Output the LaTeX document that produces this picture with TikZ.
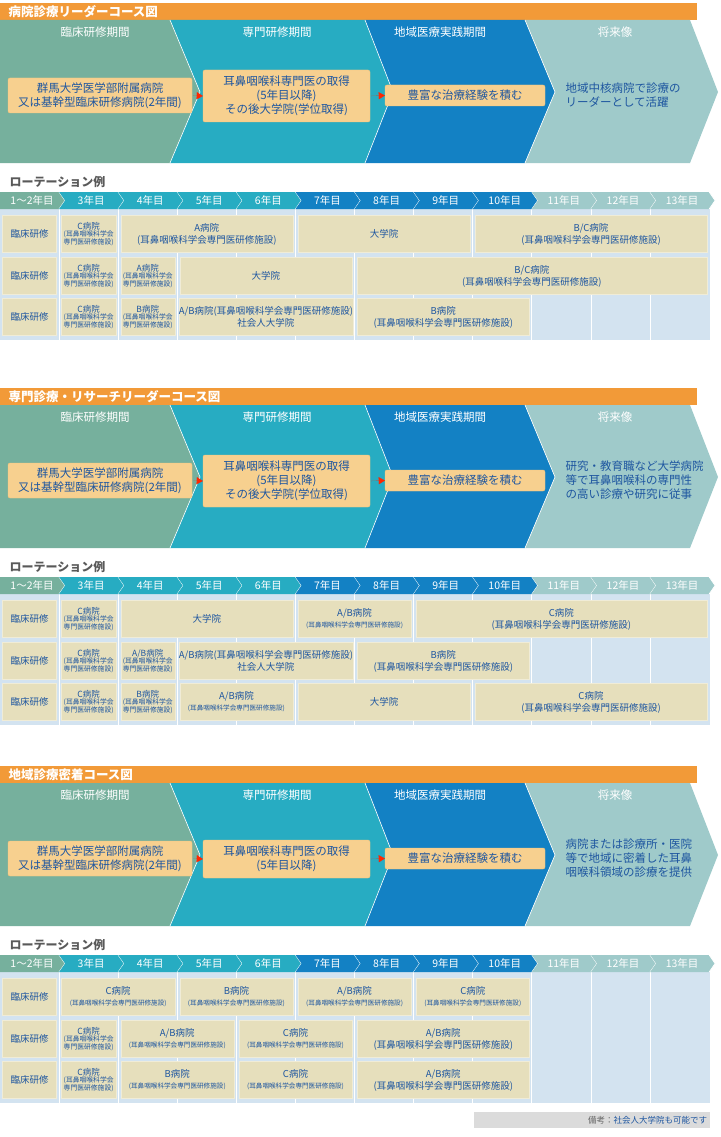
\documentclass[tikz,border=0pt]{standalone}
\usepackage{fontspec}
\setmainfont{Noto Sans CJK JP}
\usetikzlibrary{arrows.meta,positioning}

\definecolor{hdorange}{HTML}{F29A38}
\definecolor{phgreen}{HTML}{76B09D}
\definecolor{phteal}{HTML}{27ACC2}
\definecolor{phblue}{HTML}{1381C4}
\definecolor{phlight}{HTML}{9FCACA}
\definecolor{yelfill}{HTML}{F7D08F}
\definecolor{txtblue}{HTML}{1E56A0}
\definecolor{beige}{HTML}{E6DFBC}
\definecolor{gridblue}{HTML}{D3E3F0}

\tikzset{
titletext/.style={text=white, font=\fontsize{12.5}{14}\selectfont\bfseries},
phaselabel/.style={text=white, font=\fontsize{11.5}{13}\selectfont},
yelbox/.style={fill=yelfill, draw=yelfill!85!orange, rounded corners=2pt, align=center, text=txtblue, font=\fontsize{11.5}{14}\selectfont, inner sep=2pt},
futuretext/.style={text=txtblue, align=left, font=\fontsize{11.5}{14}\selectfont},
redtip/.style={draw=red!70!orange, line width=0.1pt, -{Triangle[length=6pt,width=7pt]}, shorten <=1pt},
rotlabel/.style={text=black!65, font=\fontsize{12}{14}\selectfont\bfseries},
yearlabel/.style={text=white, font=\fontsize{10.5}{11}\selectfont},
cellbox/.style={fill=beige, draw=beige!60!white, align=center, text=txtblue, inner sep=0pt, minimum height=37pt},
cellsmall/.style={font=\fontsize{6.8}{7.8}\selectfont},
celltwo/.style={font=\fontsize{6.6}{11}\selectfont},
cellmid/.style={font=\fontsize{9.5}{12}\selectfont},
notebox/.style={fill=black!14, text=txtblue, font=\fontsize{8.5}{10}\selectfont, minimum width=236pt, minimum height=16pt, inner sep=3pt},
}

% #1 name, #2 first column, #3 last column, #4 row centre, #5 style, #6 text
\newcommand\rc[6]{%
  \node[cellbox,#5,minimum width={((#3-#2+1)*59.1-5)*1pt}] (#1) at ({(#2+#3+1)*59.1/2},#4) {#6};}

% #1 prefix, #2 y offset, #3 title, #4 second box, #5 future, #6 second box height
\newcommand\coursehead[6]{%
\begin{scope}[shift={(0,#2)}]
\fill[hdorange] (0,3) rectangle (697,20);
\node[titletext, anchor=west] (#1title) at (5,11.5) {#3};
% phases
\fill[phgreen] (0,20) -- (170,20) -- (200,92) -- (170,163) -- (0,163) -- cycle;
\fill[phteal] (170,20) -- (365,20) -- (393,92) -- (365,163) -- (170,163) -- (200,92) -- cycle;
\fill[phblue] (365,20) -- (525,20) -- (555,92) -- (525,163) -- (365,163) -- (393,92) -- cycle;
\fill[phlight] (525,20) -- (690,20) -- (718,92) -- (690,163) -- (525,163) -- (555,92) -- cycle;
\draw[white, line width=0.6pt] (170,20) -- (200,92) -- (170,163)
  (365,20) -- (393,92) -- (365,163) (525,20) -- (555,92) -- (525,163);
\node[phaselabel] (#1p1) at (95,32) {臨床研修期間};
\node[phaselabel] (#1p2) at (277,32) {専門研修期間};
\node[phaselabel] (#1p3) at (440,32) {地域医療実践期間};
\node[phaselabel] (#1p4) at (615,32) {将来像};
\node[yelbox, minimum width=184pt, minimum height=35pt] (#1b1) at (100,95.5) {群馬大学医学部附属病院\\又は基幹型臨床研修病院(2年間)};
\node[yelbox, minimum width=167pt, minimum height=#6] (#1b2) at (286.5,96) {#4};
\node[yelbox, minimum width=160pt, minimum height=21pt] (#1b3) at (465,95.5) {豊富な治療経験を積む};
\node[futuretext, anchor=west] (#1fut) at (562,95) {#5};
\draw[redtip] (#1b1.east) -- (#1b2.west);
\draw[redtip] (#1b2.east) -- (#1b3.west);
% rotation
\node[rotlabel, anchor=west] (#1rot) at (6,182) {ローテーション例};
\fill[gridblue] (0,209) rectangle (710,340);
\foreach \i in {1,...,11} \draw[white, line width=1pt] ({\i*59.1},209) -- ({\i*59.1},340);
\foreach \i/\lab/\col in {0/1〜2年目/phgreen,1/3年目/phteal,2/4年目/phteal,3/5年目/phteal,
  4/6年目/phteal,5/7年目/phblue,6/8年目/phblue,7/9年目/phblue,8/10年目/phblue,
  9/11年目/phlight,10/12年目/phlight,11/13年目/phlight}{
  \fill[\col] ({\i*59.1},192) -- ({\i*59.1+59.1},192) -- ({\i*59.1+65},200.5)
    -- ({\i*59.1+59.1},209) -- ({\i*59.1},209) -- ({\i*59.1+6},200.5) -- cycle;
  \draw[white, line width=0.8pt] ({\i*59.1+59.1},192) -- ({\i*59.1+65},200.5) -- ({\i*59.1+59.1},209);
  \node[yearlabel] (#1y\i) at ({\i*59.1+32},200.5) {\lab};
}
\fill[phgreen] (0,192) rectangle (6.5,209);
\end{scope}}

\newcommand\smallc[1]{{\fontsize{8.5}{9}\selectfont #1病院}\\(耳鼻咽喉科学会\\専門医研修施設)}
\newcommand\longc[1]{#1病院\\(耳鼻咽喉科学会専門医研修施設)}
\newcommand\twoc[1]{{\fontsize{9.5}{11}\selectfont #1病院}\\(耳鼻咽喉科学会専門医研修施設)}

\begin{document}
\begin{tikzpicture}[x=1pt,y=-1pt]
\useasboundingbox (0,0) rectangle (720,1137);

\coursehead{a}{0}{病院診療リーダーコース図}{耳鼻咽喉科専門医の取得\\(5年目以降)\\その後大学院(学位取得)}{地域中核病院で診療の\\リーダーとして活躍}{52pt}
\coursehead{b}{385}{専門診療・リサーチリーダーコース図}{耳鼻咽喉科専門医の取得\\(5年目以降)\\その後大学院(学位取得)}{研究・教育職など大学病院\\等で耳鼻咽喉科の専門性\\の高い診療や研究に従事}{52pt}
\coursehead{c}{763}{地域診療密着コース図}{耳鼻咽喉科専門医の取得\\(5年目以降)}{病院または診療所・医院\\等で地域に密着した耳鼻\\咽喉科領域の診療を提供}{38pt}

% hospital leader course
\rc{a11}{0}{0}{234}{cellmid}{臨床研修}
\rc{a12}{1}{1}{234}{cellsmall}{\smallc{C}}
\rc{a13}{2}{4}{234}{cellmid}{\longc{A}}
\rc{a14}{5}{7}{234}{cellmid}{大学院}
\rc{a15}{8}{11}{234}{cellmid}{\longc{B/C}}
\rc{a21}{0}{0}{276}{cellmid}{臨床研修}
\rc{a22}{1}{1}{276}{cellsmall}{\smallc{C}}
\rc{a23}{2}{2}{276}{cellsmall}{\smallc{A}}
\rc{a24}{3}{5}{276}{cellmid}{大学院}
\rc{a25}{6}{11}{276}{cellmid}{\longc{B/C}}
\rc{a31}{0}{0}{317}{cellmid}{臨床研修}
\rc{a32}{1}{1}{317}{cellsmall}{\smallc{C}}
\rc{a33}{2}{2}{317}{cellsmall}{\smallc{B}}
\rc{a34}{3}{5}{317}{cellmid}{A/B病院(耳鼻咽喉科学会専門医研修施設)\\社会人大学院}
\rc{a35}{6}{8}{317}{cellmid}{\longc{B}}

% research leader course
\begin{scope}[shift={(0,385)}]
\rc{b11}{0}{0}{234}{cellmid}{臨床研修}
\rc{b12}{1}{1}{234}{cellsmall}{\smallc{C}}
\rc{b13}{2}{4}{234}{cellmid}{大学院}
\rc{b14}{5}{6}{234}{celltwo}{\twoc{A/B}}
\rc{b15}{7}{11}{234}{cellmid}{\longc{C}}
\rc{b21}{0}{0}{276}{cellmid}{臨床研修}
\rc{b22}{1}{1}{276}{cellsmall}{\smallc{C}}
\rc{b23}{2}{2}{276}{cellsmall}{\smallc{A/B}}
\rc{b24}{3}{5}{276}{cellmid}{A/B病院(耳鼻咽喉科学会専門医研修施設)\\社会人大学院}
\rc{b25}{6}{8}{276}{cellmid}{\longc{B}}
\rc{b31}{0}{0}{317}{cellmid}{臨床研修}
\rc{b32}{1}{1}{317}{cellsmall}{\smallc{C}}
\rc{b33}{2}{2}{317}{cellsmall}{\smallc{B}}
\rc{b34}{3}{4}{317}{celltwo}{\twoc{A/B}}
\rc{b35}{5}{7}{317}{cellmid}{大学院}
\rc{b36}{8}{11}{317}{cellmid}{\longc{C}}
\end{scope}

% community course
\begin{scope}[shift={(0,763)}]
\rc{c11}{0}{0}{234}{cellmid}{臨床研修}
\rc{c12}{1}{2}{234}{celltwo}{\twoc{C}}
\rc{c13}{3}{4}{234}{celltwo}{\twoc{B}}
\rc{c14}{5}{6}{234}{celltwo}{\twoc{A/B}}
\rc{c15}{7}{8}{234}{celltwo}{\twoc{C}}
\rc{c21}{0}{0}{276}{cellmid}{臨床研修}
\rc{c22}{1}{1}{276}{cellsmall}{\smallc{C}}
\rc{c23}{2}{3}{276}{celltwo}{\twoc{A/B}}
\rc{c24}{4}{5}{276}{celltwo}{\twoc{C}}
\rc{c25}{6}{8}{276}{cellmid}{\longc{A/B}}
\rc{c31}{0}{0}{317}{cellmid}{臨床研修}
\rc{c32}{1}{1}{317}{cellsmall}{\smallc{C}}
\rc{c33}{2}{3}{317}{celltwo}{\twoc{B}}
\rc{c34}{4}{5}{317}{celltwo}{\twoc{C}}
\rc{c35}{6}{8}{317}{cellmid}{\longc{A/B}}
\end{scope}

\node[notebox, align=right, text width=230pt] (note) at (592,1120) {{\color{black!60}備考：}社会人大学院も可能です};
\end{tikzpicture}
\end{document}
